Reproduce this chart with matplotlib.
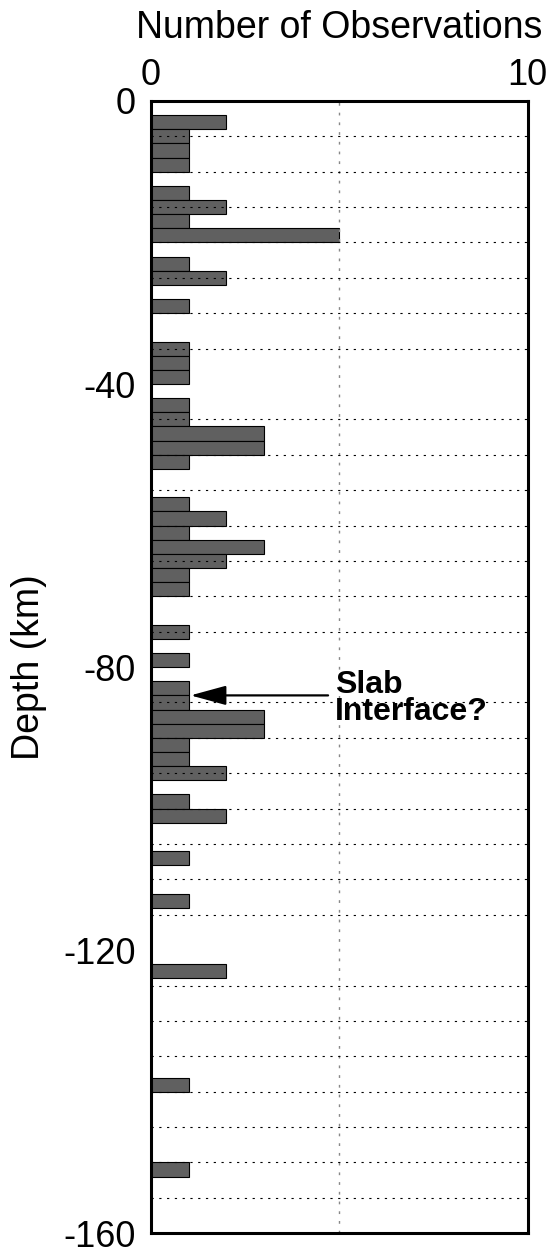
import numpy as np
import matplotlib
matplotlib.use("Agg")
import matplotlib.pyplot as plt

plt.rcParams['font.family'] = ['Liberation Sans', 'DejaVu Sans']
plt.rcParams['axes.unicode_minus'] = False

# 2 km depth bins: lower edge of each bin (km) and number of events
bin_bottom = [-4, -6, -8, -10, -14, -16, -18, -20, -24, -26, -30,
              -36, -38, -40, -44, -46, -48, -50, -52, -58, -60, -62, -64, -66, -68, -70,
              -76, -80, -84, -86, -88, -90, -92, -94, -96, -100, -102,
              -108, -114, -124, -140, -152]
counts = [2, 1, 1, 1, 1, 2, 1, 5, 1, 2, 1,
          1, 1, 1, 1, 1, 3, 3, 1, 1, 2, 1, 3, 2, 1, 1,
          1, 1, 1, 1, 3, 3, 1, 1, 2, 1, 2,
          1, 1, 2, 1, 1]
bin_size = 2

y_ticks = [0, -40, -80, -120, -160]
x_ticks = [0, 10]
arrow_depth = -84
arrow_tip = 1.05
arrow_tail = 4.7
label_x = 4.88

fig = plt.figure(figsize=(5.55, 12.57), dpi=100)
ax = fig.add_axes([0.272, 0.0189, 0.679, 0.9008])

ax.barh(bin_bottom, counts, height=bin_size, align='edge',
        color='#606060', edgecolor='black', linewidth=0.8, zorder=2)

ax.set_xlim(0, 10)
ax.set_ylim(-160, 0)
ax.xaxis.tick_top()
ax.xaxis.set_label_position('top')
ax.set_xticks(x_ticks)
ax.set_xticks([5], minor=True)
ax.set_yticks(y_ticks)
ax.set_yticks(np.arange(-160, 1, 5), minor=True)
ax.tick_params(which='both', length=0, labelsize=26)
ax.tick_params(axis='y', pad=11)
ax.tick_params(axis='x', pad=6)

ax.grid(which='minor', axis='y', color='black', linestyle=(0, (2, 5)), linewidth=0.8, zorder=3)
ax.grid(which='minor', axis='x', color='#888888', linestyle=(0, (2, 5)), linewidth=1.0, zorder=3)
ax.set_axisbelow(False)

for s in ax.spines.values():
    s.set_linewidth(2.2)
    s.set_zorder(4)

ax.set_xlabel('Number of Observations', fontsize=27, labelpad=14)
ax.set_ylabel('Depth (km)', fontsize=27, labelpad=12)

# arrow pointing at the slab interface
ax.annotate('', xy=(arrow_tip, arrow_depth), xytext=(arrow_tail, arrow_depth),
            arrowprops=dict(arrowstyle='-|>,head_length=1.1,head_width=0.3',
                            color='black', lw=1.6, mutation_scale=20,
                            shrinkA=0, shrinkB=0))
ax.text(label_x, arrow_depth - 0.4, 'Slab\nInterface?', fontsize=23, fontweight='bold',
        ha='left', va='center', linespacing=0.85)

fig.savefig('out.png', dpi=100, facecolor='white')
